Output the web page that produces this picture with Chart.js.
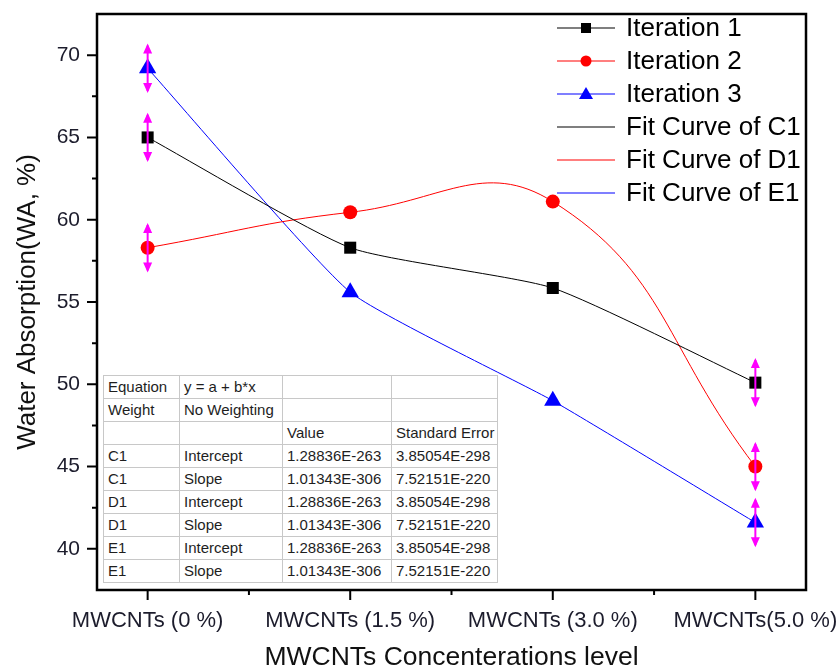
<!DOCTYPE html>
<html>
<head>
<meta charset="utf-8">
<script src="https://cdn.jsdelivr.net/npm/chart.js@4.4.0/dist/chart.umd.min.js"></script>
<style>
  html, body { margin: 0; padding: 0; background: #fff; }
  #wrap { position: relative; width: 839px; height: 672px; }
  #fitTable {
    position: absolute; left: 103px; top: 375px;
    border-collapse: collapse; background: #fff;
    font-family: Arial, "Liberation Sans", sans-serif; font-size: 15px; color: #1e1e1e;
    border: 1.5px solid #333;
  }
  #fitTable td {
    border: 1px solid #c8c8c8; height: 22px; padding: 0 0 0 4px;
    white-space: nowrap; line-height: 22px;
  }
</style>
</head>
<body>
<div id="wrap">
  <canvas id="waChart" width="839" height="672"></canvas>
  <table id="fitTable"></table>
</div>
<script>
// --- data ---
const categories = ['MWCNTs (0 %)', 'MWCNTs (1.5 %)', 'MWCNTs (3.0 %)', 'MWCNTs(5.0 %)'];
const iteration1 = [65.0, 58.3, 55.85, 50.1];
const iteration2 = [58.3, 60.45, 61.1, 45.0];
const iteration3 = [69.2, 55.6, 49.0, 41.6];
const errors1 = [1.5, 0, 0, 1.5];
const errors2 = [1.5, 0, 0, 1.5];
const errors3 = [1.5, 0, 0, 1.5];
const yTicks = [40, 45, 50, 55, 60, 65, 70];

const tableColWidths = [76, 103, 109, 106];
const tableRows = [
  ['Equation', 'y = a + b*x', '', ''],
  ['Weight', 'No Weighting', '', ''],
  ['', '', 'Value', 'Standard Error'],
  ['C1', 'Intercept', '1.28836E-263', '3.85054E-298'],
  ['C1', 'Slope', '1.01343E-306', '7.52151E-220'],
  ['D1', 'Intercept', '1.28836E-263', '3.85054E-298'],
  ['D1', 'Slope', '1.01343E-306', '7.52151E-220'],
  ['E1', 'Intercept', '1.28836E-263', '3.85054E-298'],
  ['E1', 'Slope', '1.01343E-306', '7.52151E-220']
];

// table overlay
const table = document.getElementById('fitTable');
tableRows.forEach(row => {
  const tr = document.createElement('tr');
  row.forEach((cell, i) => {
    const td = document.createElement('td');
    td.textContent = cell;
    td.style.width = (tableColWidths[i] - 5) + 'px';
    tr.appendChild(td);
  });
  table.appendChild(tr);
});

const FONT = 'Arial, "Liberation Sans", sans-serif';
Chart.defaults.font.family = FONT;

const toXY = arr => arr.map((v, i) => ({ x: i, y: v }));

const series = [
  { label: 'Iteration 1', data: iteration1, err: errors1, color: '#000000', style: 'rect', radius: 8.5, tension: 0.18 },
  { label: 'Iteration 2', data: iteration2, err: errors2, color: '#ff0000', style: 'circle', radius: 7, tension: 0.45 },
  { label: 'Iteration 3', data: iteration3, err: errors3, color: '#0000ff', style: 'triangle', radius: 10, tension: 0.15 }
];
const fitNames = ['Fit Curve of C1', 'Fit Curve of D1', 'Fit Curve of E1'];

const datasets = [];
series.forEach((s, i) => {
  datasets.push({
    label: fitNames[i], data: toXY(s.data), borderColor: s.color, borderWidth: 1,
    pointRadius: 0, tension: s.tension, fill: false, order: 2
  });
});
series.forEach(s => {
  datasets.push({
    label: s.label, data: toXY(s.data), showLine: false, backgroundColor: s.color,
    borderColor: s.color, pointStyle: s.style, pointRadius: s.radius, pointBorderWidth: 0, order: 1
  });
});

// error bars with arrow heads
const errorBars = {
  id: 'errorBars',
  afterDatasetsDraw(chart) {
    const { ctx, scales: { x, y } } = chart;
    ctx.save();
    ctx.strokeStyle = '#ff00ff';
    ctx.fillStyle = '#ff00ff';
    ctx.lineWidth = 2;
    series.forEach(s => {
      s.data.forEach((v, i) => {
        if (!s.err[i]) return;
        const px = x.getPixelForValue(i);
        const yt = y.getPixelForValue(v + s.err[i]);
        const yb = y.getPixelForValue(v - s.err[i]);
        ctx.beginPath();
        ctx.moveTo(px, yt + 2);
        ctx.lineTo(px, yb - 2);
        ctx.stroke();
        ctx.beginPath();
        ctx.moveTo(px, yt); ctx.lineTo(px - 4.5, yt + 10); ctx.lineTo(px + 4.5, yt + 10); ctx.closePath();
        ctx.moveTo(px, yb); ctx.lineTo(px - 4.5, yb - 10); ctx.lineTo(px + 4.5, yb - 10); ctx.closePath();
        ctx.fill();
      });
    });
    ctx.restore();
  }
};

// frame, major/minor ticks and legend
const frameAndLegend = {
  id: 'frameAndLegend',
  afterDraw(chart) {
    const { ctx, chartArea: a, scales: { x, y } } = chart;
    ctx.save();
    ctx.strokeStyle = '#000';
    ctx.lineWidth = 2.5;
    ctx.strokeRect(a.left, a.top, a.right - a.left, a.bottom - a.top);
    ctx.lineWidth = 2;
    ctx.beginPath();
    for (let v = 0; v <= 3; v += 0.5) {
      const px = x.getPixelForValue(v);
      ctx.moveTo(px, a.bottom); ctx.lineTo(px, a.bottom + (v % 1 === 0 ? 10 : 5));
    }
    for (let v = 40; v <= 70; v += 2.5) {
      const py = y.getPixelForValue(v);
      ctx.moveTo(a.left, py); ctx.lineTo(a.left - (v % 5 === 0 ? 10 : 5), py);
    }
    ctx.stroke();

    // legend
    const lx0 = 557, lx1 = 615, tx = 626;
    const rowY = [28, 61, 94, 127, 160, 193];
    const items = series.map(s => ({ text: s.label, color: s.color, style: s.style }))
      .concat(series.map((s, i) => ({ text: fitNames[i], color: s.color, style: null })));
    ctx.font = '26px ' + FONT;
    ctx.textBaseline = 'middle';
    items.forEach((it, i) => {
      const ly = rowY[i];
      ctx.strokeStyle = it.color;
      ctx.lineWidth = 1.2;
      ctx.beginPath(); ctx.moveTo(lx0, ly); ctx.lineTo(lx1, ly); ctx.stroke();
      if (it.style) {
        ctx.fillStyle = it.color;
        const cx = (lx0 + lx1) / 2;
        ctx.beginPath();
        if (it.style === 'rect') ctx.rect(cx - 5, ly - 5, 10, 10);
        if (it.style === 'circle') ctx.arc(cx, ly, 5.5, 0, Math.PI * 2);
        if (it.style === 'triangle') { ctx.moveTo(cx, ly - 7); ctx.lineTo(cx - 7, ly + 5); ctx.lineTo(cx + 7, ly + 5); ctx.closePath(); }
        ctx.fill();
      }
      ctx.fillStyle = '#000';
      ctx.fillText(it.text, tx, ly + 1);
    });
    ctx.restore();
  }
};

new Chart(document.getElementById('waChart'), {
  type: 'line',
  data: { datasets: datasets },
  options: {
    responsive: false,
    animation: false,
    layout: { padding: { top: 14, right: 33, left: 0, bottom: 0 } },
    plugins: { legend: { display: false }, tooltip: { enabled: false } },
    scales: {
      x: {
        type: 'linear', min: -0.25, max: 3.25,
        afterBuildTicks: s => { s.ticks = categories.map((c, i) => ({ value: i })); },
        afterFit: s => { s.height = 82; s.paddingLeft = 0; s.paddingRight = 0; },
        grid: { drawOnChartArea: false, tickLength: 10, tickColor: 'rgba(0,0,0,0)' },
        border: { display: false },
        ticks: {
          callback: v => categories[v], color: '#1c1c2c', padding: 8,
          font: { size: 22 }, maxRotation: 0, autoSkip: false
        },
        title: { display: true, text: 'MWCNTs Concenterations level', color: '#111', font: { size: 26.5, lineHeight: 1.05 }, padding: { top: 0, bottom: 0 } }
      },
      y: {
        min: 37.5, max: 72.5,
        afterBuildTicks: s => { s.ticks = yTicks.map(v => ({ value: v })); },
        afterFit: s => { s.width = 97; s.paddingTop = 0; s.paddingBottom = 0; },
        grid: { drawOnChartArea: false, tickLength: 10, tickColor: 'rgba(0,0,0,0)' },
        border: { display: false },
        ticks: { color: '#1c1c2c', padding: 7, font: { size: 21 } },
        title: { display: true, text: 'Water Absorption(WA, %)', color: '#111', font: { size: 26 }, padding: { top: 12, bottom: 0 } }
      }
    }
  },
  plugins: [errorBars, frameAndLegend]
});
</script>
</body>
</html>
